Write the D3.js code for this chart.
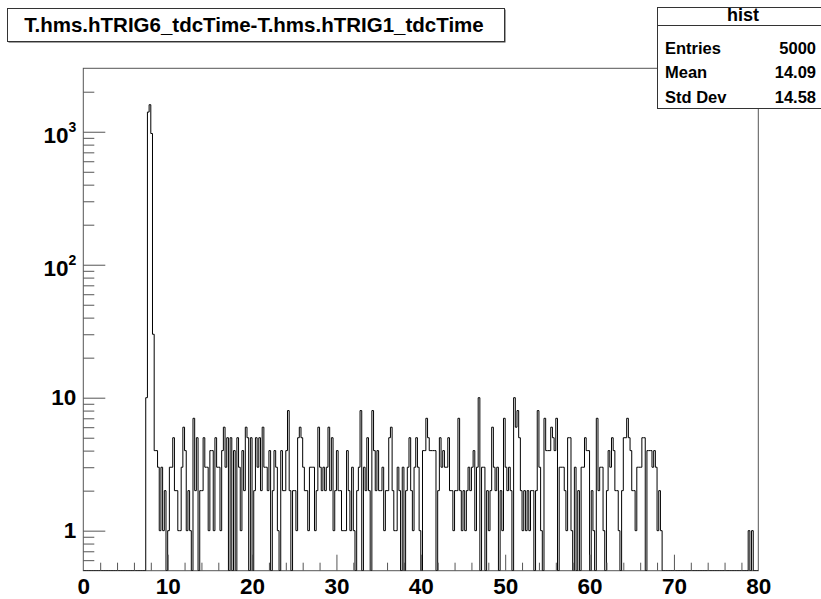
<!DOCTYPE html>
<html>
<head>
<meta charset="utf-8">
<script src="https://cdn.jsdelivr.net/npm/d3@7"></script>
<style>
  body { margin: 0; background: #fff; }
  svg { display: block; font-family: "Liberation Sans", Arial, Helvetica, sans-serif; font-weight: bold; }
</style>
</head>
<body>
<svg width="821" height="599"></svg>
<script>
// histogram binning
const xMin = 0, xMax = 80, nBins = 400;

// counts, starting at x = 7.4
const bodyStart = 7.4;
const bodyCounts = [
  10,1406,1597,970,30,4,4,
  3,1,3,1,2,0,1,3,3,5,
  2,2,1,1,3,6,4,1,2,1,
  0,7,2,5,0,2,2,5,3,3,
  1,4,4,1,5,3,3,1,4,6,
  3,5,0,5,0,4,0,5,3,1,
  4,2,6,5,0,5,0,2,5,3,
  5,2,6,3,3,2,4,0,2,4,
  3,1,0,4,2,2,4,8,2,0,
  2,2,1,5,6,5,3,2,2,1,
  3,3,3,1,2,6,3,2,3,2,
  3,6,2,5,1,2,4,2,2,1,
  1,1,4,2,1,3,1,0,2,3,
  8,0,3,2,5,2,0,8,4,2,
  4,2,2,3,1,2,2,5,6,2,
  1,1,3,2,0,3,0,2,3,5,
  2,1,3,5,3,1,0,4,4,7,
  5,4,4,4,4,0,2,5,3,4,
  3,3,5,2,2,1,2,2,7,2,
  1,2,1,2,3,2,3,4,1,3,
  10,0,3,3,0,2,1,2,6,3,
  2,3,0,2,1,7,3,2,3,2,
  0,10,6,8,5,2,1,2,1,2,
  1,2,2,0,2,8,3,1,0,7,
  4,4,4,6,5,4,7,0,3,3,
  3,2,1,5,5,1,0,3,0,2,
  0,3,3,5,4,4,0,2,1,0,
  7,2,3,3,1,0,2,4,3,5,
  4,2,2,1,0,2,5,5,7,5,
  4,2,2,1,3,3,3,5,5,0,
  4,4,4,3,4,3,1,2,1,0
];
const tailStart = 78.8;
const tailCounts = [1, 0, 1];

const xTickLabels = [0, 10, 20, 30, 40, 50, 60, 70, 80];
const yDecades = [1, 10, 100, 1000];
const yRange = [0.5, 3000];

const titleText = "T.hms.hTRIG6_tdcTime-T.hms.hTRIG1_tdcTime";
const statsName = "hist";
const statsLabels = ["Entries", "Mean", "Std Dev"];
const statsValues = ["5000", "14.09", "14.58"];

const svg = d3.select("svg");
const frame = {left: 83.3, right: 758.3, top: 68.3, bottom: 570.7};

const x = d3.scaleLinear().domain([xMin, xMax]).range([frame.left, frame.right]);
const y = d3.scaleLog().domain(yRange).range([frame.bottom, frame.top]);

// fill bins
const binW = (xMax - xMin) / nBins;
const bins = d3.range(nBins).map(i => ({x0: xMin + i * binW, n: 0}));
function place(start, arr) {
  const i0 = Math.round((start - xMin) / binW);
  arr.forEach((v, k) => { bins[i0 + k].n = v; });
}
place(bodyStart, bodyCounts);
place(tailStart, tailCounts);

// frame
svg.append("rect")
  .attr("x", frame.left).attr("y", frame.top)
  .attr("width", frame.right - frame.left).attr("height", frame.bottom - frame.top)
  .attr("fill", "none").attr("stroke", "#555").attr("stroke-width", 1);

svg.append("clipPath").attr("id", "clip")
  .append("rect")
  .attr("x", frame.left).attr("y", frame.top)
  .attr("width", frame.right - frame.left).attr("height", frame.bottom - frame.top);

// histogram step line
const pts = bins.concat([{x0: xMax, n: bins[nBins - 1].n}]);
const line = d3.line()
  .x(d => x(d.x0))
  .y(d => d.n > 0 ? y(d.n) : frame.bottom)
  .curve(d3.curveStepAfter);
svg.append("path")
  .attr("clip-path", "url(#clip)")
  .attr("d", line(pts))
  .attr("fill", "none")
  .attr("stroke", "#000")
  .attr("stroke-width", 1);

// x axis (ticks point inward)
const xMinor = d3.range(xMin, xMax + 0.001, 2).filter(v => v % 10 !== 0 && v < xMax);
svg.append("g")
  .attr("transform", "translate(0," + frame.bottom + ")")
  .call(d3.axisBottom(x).tickValues(xMinor).tickSize(-8).tickFormat(""))
  .call(g => g.select(".domain").remove());
svg.append("g")
  .attr("transform", "translate(0," + frame.bottom + ")")
  .call(d3.axisBottom(x).tickValues(xTickLabels).tickSize(-16).tickPadding(7).tickFormat(d3.format("d")))
  .call(g => g.select(".domain").remove())
  .call(g => g.selectAll(".tick line").filter(d => d === xMin || d === xMax).remove())
  .call(g => g.selectAll("text").attr("font-size", 22.5).attr("font-family", null).attr("fill", "#000"));

// y axis (log)
const yMinor = [];
[0.1, 1, 10, 100, 1000].forEach(dec => {
  for (let k = 2; k <= 9; k++) {
    const v = dec * k;
    if (v > yRange[0] && v < yRange[1]) yMinor.push(v);
  }
});
svg.append("g")
  .attr("transform", "translate(" + frame.left + ",0)")
  .call(d3.axisLeft(y).tickValues(yMinor).tickSize(-11).tickFormat(""))
  .call(g => g.select(".domain").remove());
const yAxis = svg.append("g")
  .attr("transform", "translate(" + frame.left + ",0)")
  .call(d3.axisLeft(y).tickValues(yDecades).tickSize(-22).tickPadding(7).tickFormat(d => String(d)))
  .call(g => g.select(".domain").remove());
yAxis.selectAll("text")
  .attr("font-size", 22.5).attr("font-family", null).attr("fill", "#000")
  .each(function(d) {
    if (d < 100) return;
    const t = d3.select(this).attr("dy", null).text(null);
    t.append("tspan").attr("dy", 11).text("10");
    t.append("tspan").attr("dy", -11).attr("font-size", 14).text(Math.round(Math.log10(d)));
  });
svg.selectAll(".tick line").attr("stroke", "#555");

// title box
svg.append("rect").attr("x", 8.5).attr("y", 9.5).attr("width", 497).attr("height", 33).attr("fill", "#444");
svg.append("rect").attr("x", 7.5).attr("y", 8.5).attr("width", 497).attr("height", 33)
  .attr("fill", "#fff").attr("stroke", "#333").attr("stroke-width", 1);
svg.append("text").attr("x", 254).attr("y", 32).attr("text-anchor", "middle")
  .attr("font-size", 20.5).text(titleText);

// stats box
const sb = {x: 657.5, y: 7.5, w: 170, h: 101};
svg.append("rect").attr("x", sb.x).attr("y", sb.y).attr("width", sb.w).attr("height", sb.h)
  .attr("fill", "#fff").attr("stroke", "#333").attr("stroke-width", 1);
svg.append("line").attr("x1", sb.x).attr("x2", sb.x + sb.w).attr("y1", 25.5).attr("y2", 25.5)
  .attr("stroke", "#333");
svg.append("text").attr("x", 743).attr("y", 21).attr("text-anchor", "middle")
  .attr("font-size", 18).text(statsName);
const rowY = d3.scalePoint().domain(statsLabels).range([54, 102.5]);
svg.selectAll(".slab").data(statsLabels).join("text")
  .attr("x", 665).attr("y", d => rowY(d)).attr("font-size", 16.5).text(d => d);
svg.selectAll(".sval").data(statsValues).join("text")
  .attr("x", 816).attr("y", (d, i) => rowY(statsLabels[i])).attr("text-anchor", "end")
  .attr("font-size", 16.5).text(d => d);
</script>
</body>
</html>
